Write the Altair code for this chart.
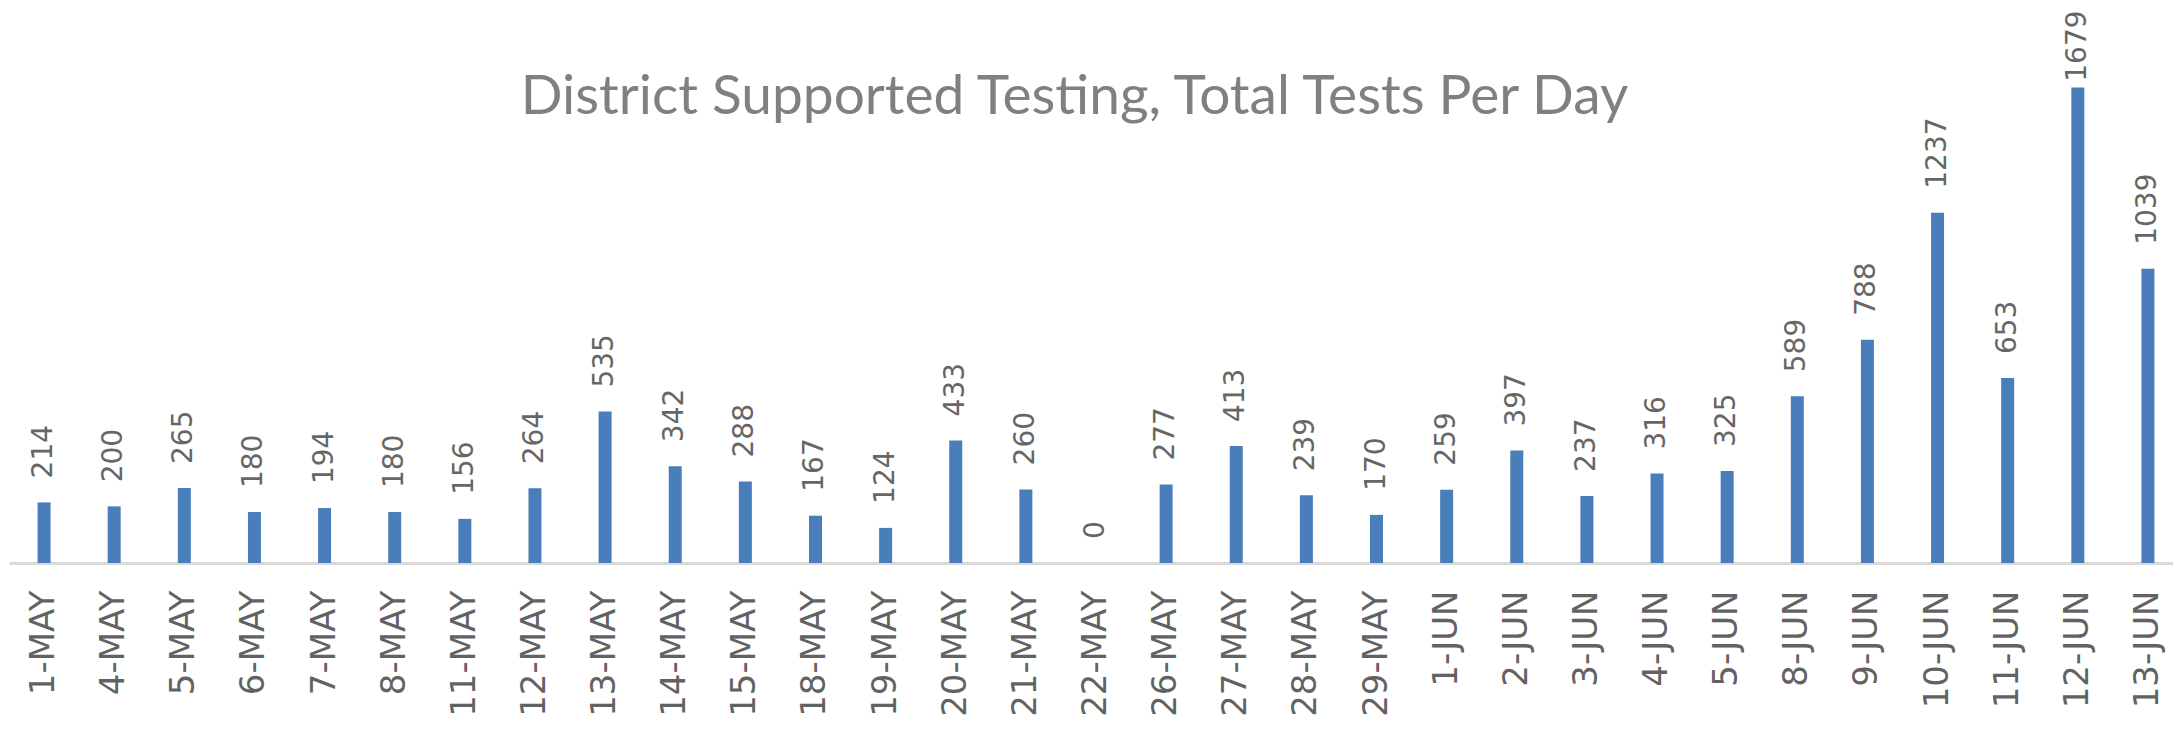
import altair as alt
import pandas as pd

dates = ["1-MAY", "4-MAY", "5-MAY", "6-MAY", "7-MAY", "8-MAY", "11-MAY", "12-MAY",
         "13-MAY", "14-MAY", "15-MAY", "18-MAY", "19-MAY", "20-MAY", "21-MAY",
         "22-MAY", "26-MAY", "27-MAY", "28-MAY", "29-MAY", "1-JUN", "2-JUN",
         "3-JUN", "4-JUN", "5-JUN", "8-JUN", "9-JUN", "10-JUN", "11-JUN",
         "12-JUN", "13-JUN"]
tests = [214, 200, 265, 180, 194, 180, 156, 264, 535, 342, 288, 167, 124, 433,
         260, 0, 277, 413, 239, 170, 259, 397, 237, 316, 325, 589, 788, 1237,
         653, 1679, 1039]

df = pd.DataFrame({"date": dates, "tests": tests})

x = alt.X("date:N", sort=dates,
          scale=alt.Scale(range=[1, 2175], paddingInner=0, paddingOuter=0),
          axis=alt.Axis(title=None, labelAngle=270, labelFont="DejaVu Sans",
                        labelFontSize=34, labelColor="#626262", ticks=False,
                        domainColor="#d9d9d9", domainWidth=3, labelPadding=27))
yscale = alt.Scale(domain=[0, 1960], nice=False)
y = alt.Y("tests:Q", scale=yscale, axis=None)

bars = alt.Chart(df).mark_bar(size=13, color="#4a7ebb").encode(x=x, y=y)
# Like the original, the top label is kept inside the chart area
labels = alt.Chart(df).transform_calculate(
    label_pos="min(datum.tests, 1615)"
).mark_text(angle=270, align="left", baseline="middle",
            dx=24, font="DejaVu Sans", fontSize=28,
            color="#666666").encode(
    x=x, y=alt.Y("label_pos:Q", scale=yscale, axis=None), text="tests:Q")

chart = (bars + labels).properties(
    width=2165, height=555,
    title=alt.TitleParams("District Supported Testing, Total Tests Per Day",
                          font="Lato", fontSize=55, fontWeight=400,
                          color="#808080", anchor="middle", frame="group",
                          baseline="alphabetic", offset=0, dy=161, dx=-16),
    autosize=alt.AutoSizeParams(type="none"),
    padding={"left": 0, "top": 0, "right": 0, "bottom": 170},
).configure_view(stroke=None)

chart.save("out.html", embed_options={"renderer": "svg", "actions": False})
